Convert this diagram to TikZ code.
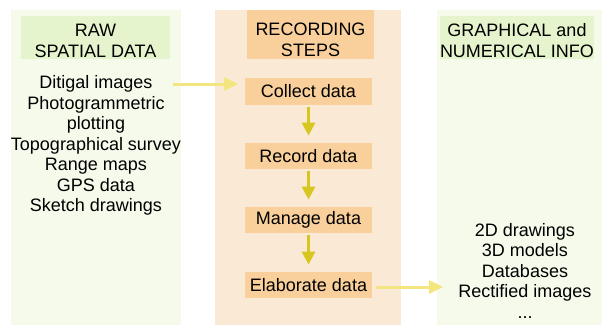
\documentclass[tikz,border=0pt]{standalone}
\usepackage{fontspec}
\setmainfont{Liberation Sans}
\usetikzlibrary{arrows.meta}
\definecolor{panelgreen}{RGB}{246,250,235}
\definecolor{headgreen}{RGB}{230,244,205}
\definecolor{panelpeach}{RGB}{250,233,212}
\definecolor{boxorange}{RGB}{249,207,155}
\definecolor{lightarrow}{RGB}{243,230,128}
\definecolor{darkarrow}{RGB}{215,198,30}
\tikzset{
  panel/.style={fill=#1, draw=none, inner sep=0, anchor=north west},
  headbox/.style={fill=#1, draw=none, inner sep=0, align=center, font=\fontsize{18}{20.5}\selectfont},
  stepbox/.style={fill=boxorange, draw=none, inner sep=0, minimum width=127pt, minimum height=26.5pt, font=\fontsize{18}{20.5}\selectfont},
  listtext/.style={inner sep=0, align=center, font=\fontsize{18}{20.5}\selectfont},
  flowarrow/.style={draw=lightarrow, line width=3pt, -{Triangle[length=14pt,width=13pt]}},
  steparrow/.style={draw=darkarrow, line width=3pt, -{Triangle[length=13pt,width=13pt]}}
}
\begin{document}
\begin{tikzpicture}[x=1pt,y=-1pt]
\useasboundingbox (0,0) rectangle (602,325);
% panels
\node[panel=panelgreen, minimum width=170pt, minimum height=315pt] (leftpanel) at (11,10) {};
\node[panel=panelpeach, minimum width=186pt, minimum height=315pt] (midpanel) at (215,10) {};
\node[panel=panelgreen, minimum width=165pt, minimum height=315pt] (rightpanel) at (437,10) {};
% headers
\node[headbox=headgreen, minimum width=149pt, minimum height=43pt] (lefthead) at (95.5,37.5) {\rule{0pt}{19pt}RAW\\SPATIAL DATA};
\node[headbox=boxorange, minimum width=127pt, minimum height=49pt] (midhead) at (310.5,34.5) {\rule{0pt}{23pt}RECORDING\\STEPS};
\node[headbox=headgreen, minimum width=150pt, minimum height=43pt] (righthead) at (517,37.5) {\rule{0pt}{19pt}GRAPHICAL and\\NUMERICAL INFO};
% lists
\node[listtext] (leftlist) at (96,145.5) {Ditigal images\\Photogrammetric\\plotting\\Topographical survey\\Range maps\\GPS data\\Sketch drawings};
\node[listtext] (rightlist) at (525,270.5) {2D drawings\\3D models\\Databases\\Rectified images\\...};
% steps
\node[stepbox] (collect) at (308.5,91.5) {Collect data};
\node[stepbox] (record) at (308.5,156) {Record data};
\node[stepbox] (manage) at (308.5,220) {Manage data};
\node[stepbox] (elaborate) at (308.5,285) {Elaborate data};
% arrows
\coordinate (inStart) at (173,84);
\coordinate (inEnd) at (238,84);
\draw[flowarrow] (inStart) -- (inEnd);
\coordinate (outStart) at (376,287);
\coordinate (outEnd) at (443,287);
\draw[flowarrow] (outStart) -- (outEnd);
\draw[steparrow] ([yshift=-2pt]collect.south) -- ([yshift=7pt]record.north);
\draw[steparrow] ([yshift=-2pt]record.south) -- ([yshift=7pt]manage.north);
\draw[steparrow] ([yshift=-2pt]manage.south) -- ([yshift=7pt]elaborate.north);
\end{tikzpicture}
\end{document}
